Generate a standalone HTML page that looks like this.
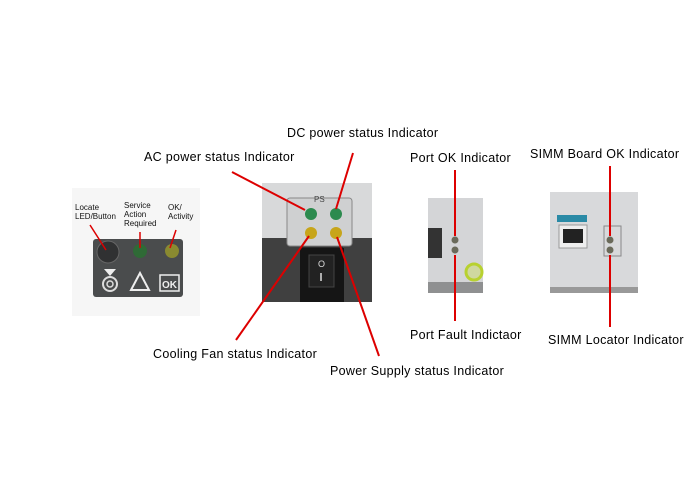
<!DOCTYPE html>
<html><head><meta charset="utf-8"><style>
html,body{margin:0;padding:0;background:#fff;width:686px;height:500px;overflow:hidden;position:relative;font-family:"Liberation Sans",sans-serif}
.t{position:absolute;font-size:12.5px;letter-spacing:0.3px;color:#000;white-space:nowrap;line-height:14px}
.s{position:absolute;font-size:8px;color:#111;line-height:9px;text-align:left}
</style></head><body>
<div class="t" style="left:287px;top:126px">DC power status Indicator</div>
<div class="t" style="left:144px;top:150px">AC power status Indicator</div>
<div class="t" style="left:410px;top:151px">Port OK Indicator</div>
<div class="t" style="left:530px;top:147px">SIMM Board OK Indicator</div>
<div class="t" style="left:410px;top:328px">Port Fault Indictaor</div>
<div class="t" style="left:548px;top:333px">SIMM Locator Indicator</div>
<div class="t" style="left:153px;top:347px">Cooling Fan status Indicator</div>
<div class="t" style="left:330px;top:364px">Power Supply status Indicator</div>

<svg width="686" height="500" style="position:absolute;left:0;top:0">
<rect x="72" y="188" width="128" height="128" fill="#f6f6f6"/>
<rect x="93" y="239" width="90" height="58" rx="3" fill="#4a4c4d"/>
<circle cx="108" cy="252" r="11" fill="#303132" stroke="#666" stroke-width="1"/>
<circle cx="140" cy="251" r="7" fill="#2f6a36"/>
<circle cx="172" cy="251" r="7" fill="#8a8a30"/>
<circle cx="110" cy="284" r="7" fill="none" stroke="#ddd" stroke-width="2"/>
<circle cx="110" cy="284" r="3" fill="none" stroke="#ddd" stroke-width="1.5"/>
<polygon points="104,269 116,269 110,276" fill="#eee"/>
<polygon points="140,273 131,290 149,290" fill="none" stroke="#eee" stroke-width="2"/>
<rect x="160" y="275" width="19" height="16" fill="none" stroke="#eee" stroke-width="1.5"/>
<text x="162" y="288" font-family="Liberation Sans" font-weight="bold" font-size="10" fill="#eee">OK</text>
<line x1="90" y1="225" x2="106" y2="250" stroke="#d00" stroke-width="1.5"/>
<line x1="140" y1="232" x2="140" y2="248" stroke="#d00" stroke-width="1.5"/>
<line x1="176" y1="230" x2="170" y2="248" stroke="#d00" stroke-width="1.5"/>
<rect x="262" y="183" width="110" height="119" fill="#2a2a2a"/>
<rect x="262" y="183" width="110" height="55" fill="#d8d9da"/>
<rect x="262" y="238" width="38" height="64" fill="#555" opacity=".5"/>
<rect x="343" y="238" width="29" height="64" fill="#555" opacity=".5"/>
<rect x="287" y="198" width="65" height="48" rx="3" fill="#cfd0d1" stroke="#888"/>
<text x="314" y="202" font-size="8" fill="#444" font-family="Liberation Sans">PS</text>
<circle cx="311" cy="214" r="6" fill="#2c8a4e"/>
<circle cx="336" cy="214" r="6" fill="#2c8a4e"/>
<circle cx="311" cy="233" r="6" fill="#c7a51a"/>
<circle cx="336" cy="233" r="6" fill="#c7a51a"/>
<rect x="300" y="248" width="44" height="54" fill="#151515"/>
<rect x="309" y="255" width="25" height="32" fill="#222" stroke="#444"/>
<text x="318" y="267" font-size="9" fill="#ddd" font-family="Liberation Sans">O</text>
<line x1="321" y1="273" x2="321" y2="281" stroke="#ddd" stroke-width="1.5"/>
<line x1="232" y1="172" x2="305" y2="210" stroke="#d00" stroke-width="2"/>
<line x1="353" y1="153" x2="336" y2="209" stroke="#d00" stroke-width="2"/>
<line x1="236" y1="340" x2="309" y2="236" stroke="#d00" stroke-width="2"/>
<line x1="379" y1="356" x2="337" y2="237" stroke="#d00" stroke-width="2"/>
<rect x="428" y="198" width="55" height="95" fill="#d4d5d7"/>
<rect x="428" y="228" width="14" height="30" fill="#333"/>
<rect x="428" y="282" width="55" height="11" fill="#8f9091"/>
<circle cx="474" cy="272" r="8" fill="#cfd8a0" stroke="#b8d130" stroke-width="3"/>
<circle cx="455" cy="240" r="3.5" fill="#6a6a5a"/>
<circle cx="455" cy="250" r="3.5" fill="#6a6a5a"/>
<line x1="455" y1="170" x2="455" y2="236" stroke="#d00" stroke-width="2"/>
<line x1="455" y1="255" x2="455" y2="321" stroke="#d00" stroke-width="2"/>
<rect x="550" y="192" width="88" height="101" fill="#d8d9db"/>
<rect x="550" y="287" width="88" height="6" fill="#999"/>
<rect x="557" y="215" width="30" height="7" fill="#2a8aa6"/>
<rect x="559" y="225" width="28" height="23" fill="#eee" stroke="#999"/>
<rect x="563" y="229" width="20" height="14" fill="#222"/>
<rect x="604" y="226" width="17" height="30" fill="none" stroke="#888"/>
<circle cx="610" cy="240" r="3.5" fill="#6a6a5a"/>
<circle cx="610" cy="250" r="3.5" fill="#6a6a5a"/>
<line x1="610" y1="166" x2="610" y2="236" stroke="#d00" stroke-width="2"/>
<line x1="610" y1="255" x2="610" y2="327" stroke="#d00" stroke-width="2"/>
</svg>
<div class="s" style="left:75px;top:203px">Locate<br>LED/Button</div>
<div class="s" style="left:124px;top:201px">Service<br>Action<br>Required</div>
<div class="s" style="left:168px;top:203px">OK/<br>Activity</div>
</body></html>
